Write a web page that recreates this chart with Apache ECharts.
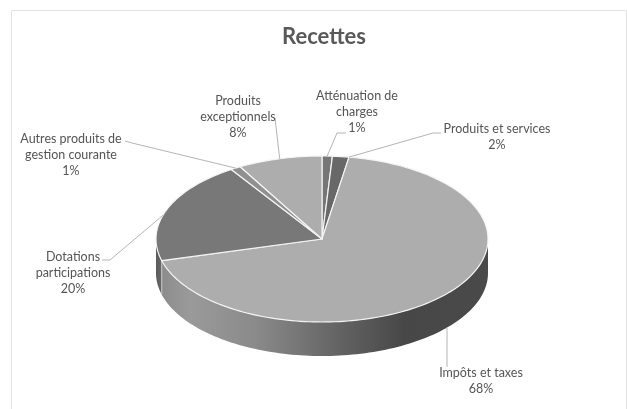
<!DOCTYPE html>
<html>
<head>
<meta charset="utf-8">
<style>html,body{margin:0;padding:0;background:#fff}#c{width:627px;height:409px}</style>
<script src="https://cdn.jsdelivr.net/npm/echarts@6/dist/echarts.min.js"></script>
</head>
<body>
<div id="c"></div>
<script>
// Data
const categories = ['Atténuation de\ncharges', 'Produits et services', 'Impôts et taxes', 'Dotations\nparticipations', 'Autres produits de\ngestion courante', 'Produits\nexceptionnels'];
const shares = [1.0, 1.6, 68.2, 20.0, 1.0, 8.2];
const percentLabels = ['1%', '2%', '68%', '20%', '1%', '8%'];
const titleText = 'Recettes';

// Styling
const topColors = ['#767676', '#686868', '#adadad', '#787878', '#909090', '#adadad'];
// Label layout: text centre, first-line y, elbow points; last leader point sits on the rim
const labelLayout = [
  {x: 357, y: 96,  leader: [[346,133],[337,133]]},
  {x: 497, y: 129, leader: [[441,133],[433,133]]},
  {x: 481, y: 373, leader: [[447,367]]},
  {x: 73,  y: 257, leader: [[102,260],[110,260]]},
  {x: 71,  y: 139, leader: [[125,141],[132,143]]},
  {x: 238, y: 101, leader: [[275,118]]}
];
const rimTarget = [0.5, 1.0, 0.496, 0.44, 0.5, 0.5];
const CX = 322, CY = 239, RX = 166, RY = 83, DEPTH = 34;

const total = shares.reduce((a, b) => a + b, 0);
function rim(frac, dy) {
  const t = frac * Math.PI * 2;
  return [CX + RX * Math.sin(t), CY - RY * Math.cos(t) + (dy || 0)];
}
function arc(f0, f1, dy) {
  const n = Math.max(2, Math.ceil((f1 - f0) * 240)), pts = [];
  for (let i = 0; i <= n; i++) pts.push(rim(f0 + (f1 - f0) * i / n, dy));
  return pts;
}
const sideFill = new echarts.graphic.LinearGradient(157, 0, 488, 0, [
  {offset: 0, color: '#8a8a8a'}, {offset: 0.1, color: '#9a9a9a'}, {offset: 0.3, color: '#8a8a8a'},
  {offset: 0.55, color: '#636363'}, {offset: 0.75, color: '#474747'}, {offset: 1, color: '#4a4a4a'}
], true);
const sliverFill = new echarts.graphic.LinearGradient(157, 0, 164, 0, [
  {offset: 0, color: '#5c5c5c'}, {offset: 0.7, color: '#6a6a6a'}, {offset: 1, color: '#828282'}
], true);

function renderItem(params, api) {
  const i = params.dataIndex;
  let before = 0;
  for (let k = 0; k < i; k++) before += shares[k];
  const f0 = before / total, f1 = (before + api.value(0)) / total;
  const children = [];
  // visible outer wall: front half of the ellipse (fractions 0.25 .. 0.75)
  const s0 = Math.max(f0, 0.25), s1 = Math.min(f1, 0.75);
  if (s1 > s0) {
    const top = arc(s0, s1, 0), bot = arc(s0, s1, DEPTH).reverse();
    children.push({type: 'polygon', z2: 1, shape: {points: top.concat(bot)},
      style: {fill: i === 3 ? sliverFill : sideFill, stroke: null}});
    const e = rim(s0, 0), e2 = rim(s0, DEPTH);
    if (s0 > 0.25) children.push({type: 'line', z2: 2, shape: {x1: e[0], y1: e[1], x2: e2[0], y2: e2[1]}, style: {stroke: '#c8c8c8', lineWidth: 1}});
  }
  // top face
  children.push({type: 'polygon', z2: 5, shape: {points: [[CX, CY]].concat(arc(f0, f1, 0))},
    style: {fill: topColors[i], stroke: '#f4f4f4', lineWidth: 1.2, lineJoin: 'round'}});
  // leader line ending on the slice rim
  const lay = labelLayout[i];
  const frac = f0 + (f1 - f0) * rimTarget[i];
  const end = i === 2 ? rim(frac, DEPTH) : rim(frac, 0);
  children.push({type: 'polyline', z2: 8, shape: {points: lay.leader.concat([end])},
    style: {fill: null, stroke: '#b5b5b5', lineWidth: 1}});
  // label text
  children.push({type: 'text', z2: 10, style: {
    x: lay.x, y: lay.y - 8, text: categories[i] + '\n' + percentLabels[i],
    align: 'center', verticalAlign: 'top', fill: '#555555',
    font: '12.5px Lato', lineHeight: 15.8
  }});
  return {type: 'group', children};
}

const chart = echarts.init(document.getElementById('c'), null, {renderer: 'canvas'});
chart.setOption({
  animation: false,
  backgroundColor: '#ffffff',
  title: {text: titleText, left: 319, top: 21, textAlign: 'center',
    textStyle: {color: '#595959', fontFamily: 'Lato', fontWeight: 'bold', fontSize: 22}},
  graphic: [{type: 'rect', z: -1, shape: {x: 11.5, y: 10.5, width: 615, height: 420},
    style: {fill: null, stroke: '#e2e2e2', lineWidth: 1}}],
  series: [{
    type: 'custom', coordinateSystem: 'none', silent: true, clip: false,
    data: shares.map((v, i) => ({name: categories[i], value: [v]})),
    renderItem
  }]
});
</script>
</body>
</html>
